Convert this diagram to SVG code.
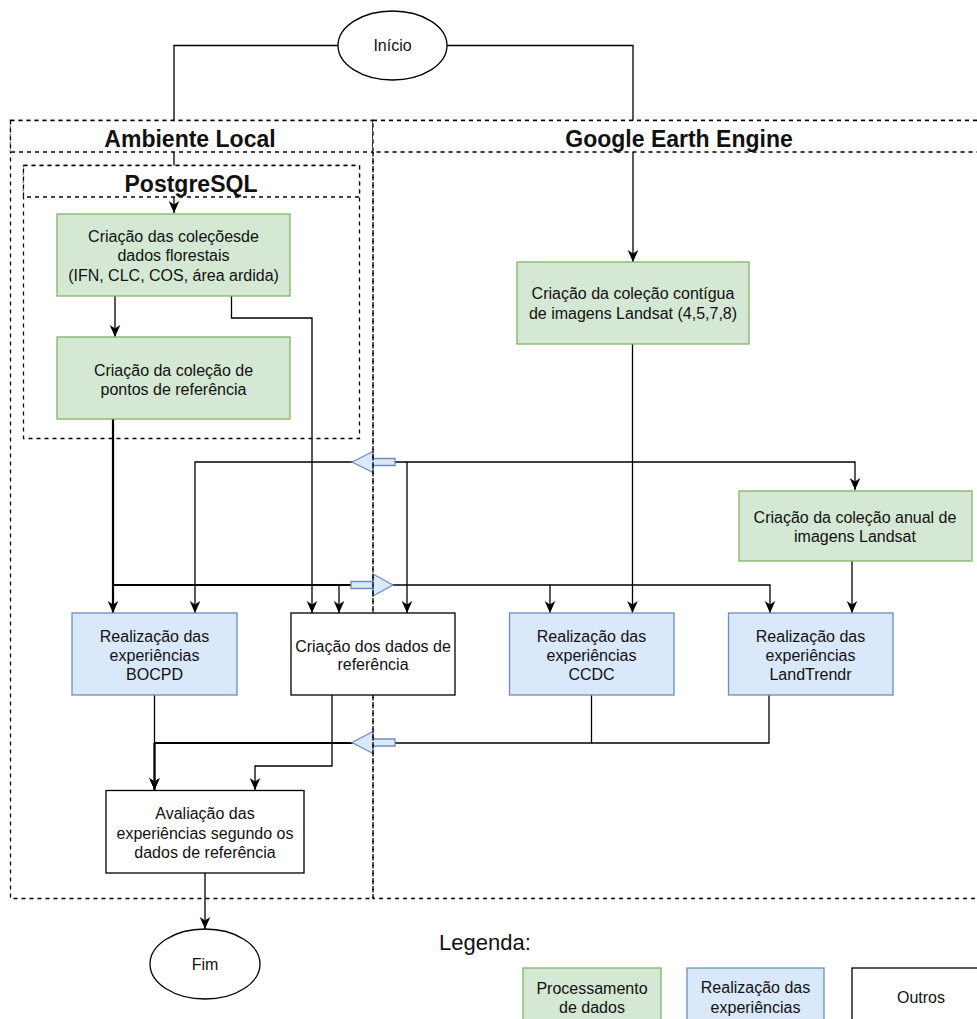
<svg xmlns="http://www.w3.org/2000/svg" width="977" height="1019" viewBox="0 0 977 1019">
<style>
  text { font-family: "Liberation Sans", Arial, Helvetica, sans-serif; fill: #111; }
  .t { font-size: 16px; text-anchor: middle; }
  .h { font-size: 23px; font-weight: bold; text-anchor: middle; }
  .c { fill: none; stroke: #000; stroke-width: 1.3; }
  .cb { fill: none; stroke: #000; stroke-width: 2.2; }
  .ar { marker-end: url(#arr); }
  .green { fill: #d5e8d4; stroke: #82b366; stroke-width: 1.3; }
  .blue { fill: #dae8fc; stroke: #6c8ebf; stroke-width: 1.3; }
  .white { fill: #fff; stroke: #000; stroke-width: 1.3; }
  .dash { fill: none; stroke: #000; stroke-width: 1.3; stroke-dasharray: 4 4; }
  .hdr { fill: #fff; stroke: #000; stroke-width: 1.3; stroke-dasharray: 4 4; }
  .flow { fill: #dae8fc; stroke: #6c8ebf; stroke-width: 1.3; }
</style>
<defs>
  <marker id="arr" viewBox="0 0 12 12" refX="12" refY="6" markerWidth="12" markerHeight="12" markerUnits="userSpaceOnUse" orient="auto">
    <path d="M0,0.7 L12,6 L0,11.3 L3.5,6 Z" fill="#000"/>
  </marker>
</defs>

<g id="connectors">
  <path class="c ar" d="M338,45.5 H174 V213"/>
  <path class="c ar" d="M447,45.5 H633 V262"/>
  <path class="c ar" d="M115,296 V337"/>
  <path class="c ar" d="M231.5,296 V318 H312 V613"/>
  <path class="cb ar" d="M113,419 V613"/>
  <path class="c ar" d="M113,585 H770 V613"/>
  <path class="cb" d="M113,585 H352"/>
  <path class="c ar" d="M339,585 V613"/>
  <path class="c ar" d="M550,585 V613"/>
  <path class="c ar" d="M632.5,344 V613"/>
  <path class="c ar" d="M632.5,462 H195 V613"/>
  <path class="c ar" d="M407,462 V613"/>
  <path class="c ar" d="M632.5,462 H855 V490"/>
  <path class="c ar" d="M852,561 V613"/>
  <path class="c ar" d="M154.5,695 V790"/>
  <path class="c" d="M591.5,695 V743 H154.5"/>
  <path class="c" d="M769,695 V743 H591.5"/>
  <path class="cb ar" d="M154.5,743 H352 M154.5,743 V790"/>
  <path class="c ar" d="M332,695 V766 H255 V790"/>
  <path class="c ar" d="M205,873 V929"/>
  <polygon class="flow" points="352,462 373,451.5 373,458.5 395,458.5 395,465.5 373,465.5 373,472.5"/>
  <polygon class="flow" points="393,585 373,574 373,581.5 351,581.5 351,588.5 373,588.5 373,596"/>
  <polygon class="flow" points="352,742.5 373,731.5 373,739 395,739 395,746 373,746 373,753.5"/>
</g>

<g id="lane-local">
  <rect class="dash" x="10.5" y="120.5" width="362.5" height="778"/>
  <rect class="hdr" x="10.5" y="120.5" width="362.5" height="31.5"/>
  <text class="h" x="190" y="147">Ambiente Local</text>
</g>
<g id="lane-gee">
  <rect class="dash" x="373" y="120.5" width="620" height="778"/>
  <rect class="hdr" x="373" y="120.5" width="620" height="31.5"/>
  <text class="h" x="679" y="147">Google Earth Engine</text>
</g>
<g id="lane-postgres">
  <rect class="dash" x="23.5" y="165.5" width="336" height="273"/>
  <rect class="hdr" x="23.5" y="165.5" width="336" height="31.5"/>
  <text class="h" x="191" y="192">PostgreSQL</text>
</g>

<g id="inicio">
  <ellipse cx="392.5" cy="45.5" rx="54.5" ry="34.5" fill="#fff" stroke="#000" stroke-width="1.3"/>
  <text class="t" x="392.5" y="51">Início</text>
</g>
<g id="colecoes-florestais">
  <rect class="green" x="57" y="214" width="233" height="82"/>
  <text class="t" x="173.5" y="242">Criação das coleçõesde</text>
  <text class="t" x="173.5" y="261">dados florestais</text>
  <text class="t" x="173.5" y="281">(IFN, CLC, COS, área ardida)</text>
</g>
<g id="pontos-referencia">
  <rect class="green" x="57" y="337" width="233" height="82"/>
  <text class="t" x="173.5" y="375.5">Criação da coleção de</text>
  <text class="t" x="173.5" y="394.5">pontos de referência</text>
</g>
<g id="colecao-contigua">
  <rect class="green" x="517" y="262" width="232" height="82"/>
  <text class="t" x="633" y="298.5">Criação da coleção contígua</text>
  <text class="t" x="633" y="318.5">de imagens Landsat (4,5,7,8)</text>
</g>
<g id="colecao-anual">
  <rect class="green" x="739" y="491" width="233" height="70"/>
  <text class="t" x="855" y="522.5">Criação da coleção anual de</text>
  <text class="t" x="855" y="542">imagens Landsat</text>
</g>
<g id="bocpd">
  <rect class="blue" x="72" y="613" width="165" height="82"/>
  <text class="t" x="154.5" y="641.5">Realização das</text>
  <text class="t" x="154.5" y="660.5">experiências</text>
  <text class="t" x="154.5" y="680">BOCPD</text>
</g>
<g id="dados-referencia">
  <rect class="white" x="291" y="613" width="164" height="82"/>
  <text class="t" x="373" y="651.5">Criação dos dados de</text>
  <text class="t" x="373" y="670">referência</text>
</g>
<g id="ccdc">
  <rect class="blue" x="509.5" y="613" width="164.5" height="82"/>
  <text class="t" x="591.5" y="641.5">Realização das</text>
  <text class="t" x="591.5" y="660.5">experiências</text>
  <text class="t" x="591.5" y="680">CCDC</text>
</g>
<g id="landtrendr">
  <rect class="blue" x="728.5" y="613" width="164.5" height="82"/>
  <text class="t" x="810.5" y="641.5">Realização das</text>
  <text class="t" x="810.5" y="660.5">experiências</text>
  <text class="t" x="810.5" y="680">LandTrendr</text>
</g>
<g id="avaliacao">
  <rect class="white" x="106" y="790.5" width="198" height="82.5"/>
  <text class="t" x="205" y="819">Avaliação das</text>
  <text class="t" x="205" y="838.5">experiências segundo os</text>
  <text class="t" x="205" y="857.5">dados de referência</text>
</g>
<g id="fim">
  <ellipse cx="205" cy="964" rx="55" ry="35" fill="#fff" stroke="#000" stroke-width="1.3"/>
  <text class="t" x="205" y="969.5">Fim</text>
</g>

<g id="legenda">
  <text x="439" y="950" style="font-size:22px">Legenda:</text>
  <rect class="green" x="523" y="968" width="138" height="70"/>
  <text class="t" x="592" y="994">Processamento</text>
  <text class="t" x="592" y="1013">de dados</text>
  <rect class="blue" x="687" y="968" width="137" height="70"/>
  <text class="t" x="755.5" y="993">Realização das</text>
  <text class="t" x="755.5" y="1013">experiências</text>
  <rect class="white" x="852" y="968" width="138" height="70"/>
  <text class="t" x="921" y="1003">Outros</text>
</g>
</svg>
